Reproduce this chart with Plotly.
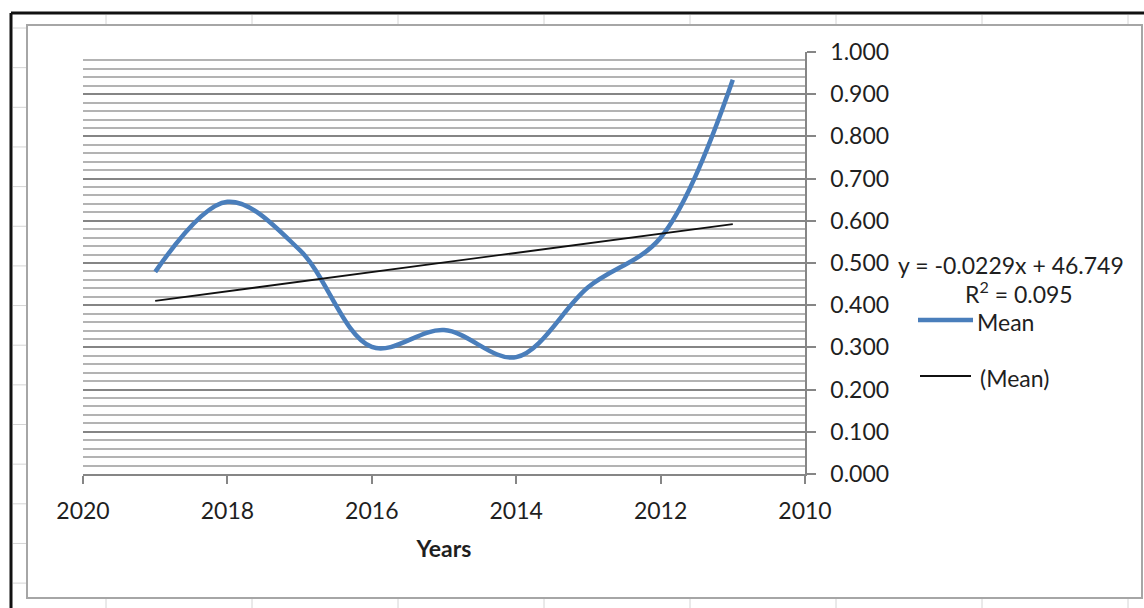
import numpy as np
import plotly.graph_objects as go

# ---- data ----
years = [2019, 2018, 2017, 2016, 2015, 2014, 2013, 2012, 2011]
mean_values = [0.479, 0.645, 0.531, 0.301, 0.341, 0.277, 0.443, 0.560, 0.934]
x_ticks = [2020, 2018, 2016, 2014, 2012, 2010]
y_ticks = [0.0, 0.1, 0.2, 0.3, 0.4, 0.5, 0.6, 0.7, 0.8, 0.9, 1.0]
equation_text = "y = -0.0229x + 46.749"
r2_text = "R<sup>2</sup> = 0.095"
series_name = "Mean"
trend_name = "(Mean)"
x_title = "Years"

# linear trend (least squares of the series)
slope, intercept = np.polyfit(years, mean_values, 1)
trend_x = [min(years), max(years)]
trend_y = [slope * v + intercept for v in trend_x]

W, H = 1144, 608
ML, MR, MT, MB = 83, 339, 52, 134
PW, PH = W - ML - MR, H - MT - MB


def px(xp):
    return (xp - ML) / PW


def py(yp):
    return (H - MB - yp) / PH


FONT = "Lato"
FS = 23
TXT = "#1f1f1f"

fig = go.Figure()
fig.add_trace(go.Scatter(
    x=years, y=mean_values, mode="lines", name=series_name,
    line=dict(color="#4a7ebb", width=4.5, shape="spline", smoothing=1.0),
    showlegend=False, hoverinfo="skip"))
fig.add_trace(go.Scatter(
    x=trend_x, y=trend_y, mode="lines", name=trend_name,
    line=dict(color="#111111", width=1.8),
    showlegend=False, hoverinfo="skip"))

shapes = []
# outer black frame
shapes.append(dict(type="line", xref="paper", yref="paper",
                   x0=px(11), x1=px(1160), y0=py(13), y1=py(13),
                   line=dict(color="#111111", width=3)))
shapes.append(dict(type="line", xref="paper", yref="paper",
                   x0=px(11), x1=px(11), y0=py(13), y1=py(620),
                   line=dict(color="#111111", width=3)))
# spreadsheet cell ticks
for xc in [106, 252, 398, 544, 690, 836, 982, 1128]:
    shapes.append(dict(type="line", xref="paper", yref="paper",
                       x0=px(xc), x1=px(xc), y0=py(15), y1=py(25),
                       line=dict(color="#d4d4d4", width=1)))
    shapes.append(dict(type="line", xref="paper", yref="paper",
                       x0=px(xc), x1=px(xc), y0=py(599), y1=py(608),
                       line=dict(color="#d4d4d4", width=1)))
for i in range(15):
    yc = 28 + i * 39.65
    shapes.append(dict(type="line", xref="paper", yref="paper",
                       x0=px(13), x1=px(27), y0=py(yc), y1=py(yc),
                       line=dict(color="#d4d4d4", width=1)))
# inner chart frame
shapes.append(dict(type="rect", xref="paper", yref="paper",
                   x0=px(27), x1=px(1142), y0=py(25), y1=py(598),
                   line=dict(color="#a6a6a6", width=2)))
# legend line samples
shapes.append(dict(type="line", xref="paper", yref="paper",
                   x0=px(918), x1=px(973), y0=py(320), y1=py(320),
                   line=dict(color="#4a7ebb", width=4.5)))
shapes.append(dict(type="line", xref="paper", yref="paper",
                   x0=px(920), x1=px(971), y0=py(376), y1=py(376),
                   line=dict(color="#111111", width=1.8)))

annotations = [
    dict(text=equation_text, xref="paper", yref="paper", x=px(896), y=py(265),
         xanchor="left", yanchor="middle", showarrow=False,
         font=dict(family=FONT, size=FS, color=TXT)),
    dict(text=r2_text, xref="paper", yref="paper", x=px(1019), y=py(292),
         xanchor="center", yanchor="middle", showarrow=False,
         font=dict(family=FONT, size=FS, color=TXT)),
    dict(text=series_name, xref="paper", yref="paper", x=px(975), y=py(322),
         xanchor="left", yanchor="middle", showarrow=False,
         font=dict(family=FONT, size=FS, color=TXT)),
    dict(text=trend_name, xref="paper", yref="paper", x=px(978), y=py(378),
         xanchor="left", yanchor="middle", showarrow=False,
         font=dict(family=FONT, size=FS, color=TXT)),
]

fig.update_layout(
    width=W, height=H,
    margin=dict(l=ML, r=MR, t=MT, b=MB, pad=0),
    paper_bgcolor="white", plot_bgcolor="white",
    font=dict(family=FONT, size=FS, color=TXT),
    shapes=shapes, annotations=annotations,
    xaxis=dict(range=[2020, 2010], tickvals=x_ticks, ticktext=[str(v) for v in x_ticks],
               showgrid=False, zeroline=False, showline=True, linecolor="#868686", linewidth=1.5,
               ticks="outside", ticklen=8, tickwidth=1.5, tickcolor="#868686",
               ticklabelstandoff=8,
               tickfont=dict(family=FONT, size=FS, color=TXT),
               title=dict(text="<b>" + x_title + "</b>", font=dict(family=FONT, size=FS, color=TXT),
                          standoff=18)),
    yaxis=dict(range=[0, 1], side="right", tickvals=y_ticks,
               ticktext=["%.3f" % v for v in y_ticks],
               showgrid=True, gridcolor="#858585", gridwidth=2,
               minor=dict(dtick=0.02, showgrid=True, gridcolor="#b3b3b3", gridwidth=1.8, ticks=""),
               zeroline=False, showline=True, linecolor="#868686", linewidth=1.5,
               ticks="outside", ticklen=9, tickwidth=1.5, tickcolor="#868686",
               ticklabelstandoff=10,
               tickfont=dict(family=FONT, size=FS, color=TXT)),
)

fig.write_html("out.html")
